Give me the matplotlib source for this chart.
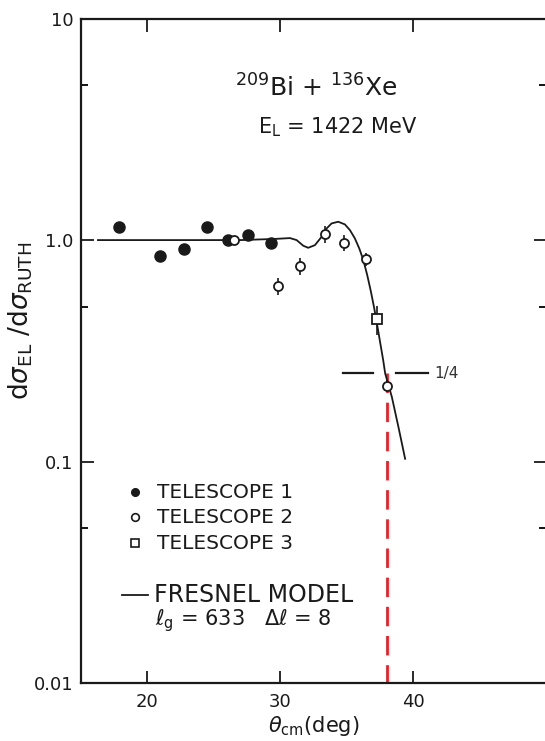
import numpy as np
import matplotlib
matplotlib.use("Agg")
import matplotlib.pyplot as plt
from matplotlib.ticker import FixedLocator, NullFormatter

plt.rcParams["font.family"] = ["DejaVu Sans"]
plt.rcParams["mathtext.fontset"] = "dejavusans"

# telescope 1 (filled circles)
tel1_theta = [17.9, 21.0, 22.8, 24.5, 26.05, 27.6, 29.35]
tel1_ratio = [1.14, 0.847, 0.911, 1.148, 1.0, 1.057, 0.97]

# telescope 2 (open circles), relative errors
tel2_theta = [26.5, 29.82, 31.53, 33.37, 34.8, 36.43, 38.0]
tel2_ratio = [1.0, 0.618, 0.764, 1.061, 0.972, 0.82, 0.22]
tel2_err = [0.0, 0.09, 0.09, 0.09, 0.08, 0.07, 0.06]

# telescope 3 (open square)
tel3_theta = [37.25]
tel3_ratio = [0.44]
tel3_err = [0.15]

# fresnel model, l_g = 633, dl = 8
model_theta = [16.3, 20.0, 24.0, 27.0, 28.5, 29.6, 30.74, 31.24, 31.74, 32.11,
               32.62, 33.12, 33.5, 33.87, 34.37, 34.87, 35.25, 35.62, 35.95,
               36.25, 36.55, 36.83, 37.08, 37.3, 37.75, 37.9, 38.4, 38.9, 39.4]
model_ratio = [1.0, 1.0, 1.0, 1.0, 1.007, 1.012, 1.021, 1.0, 0.943, 0.923,
               0.949, 1.035, 1.129, 1.189, 1.21, 1.177, 1.109, 1.018, 0.917,
               0.815, 0.695, 0.584, 0.491, 0.413, 0.287, 0.25, 0.196, 0.143,
               0.103]

quarter = 0.25
theta_quarter = 38.0

fig = plt.figure(figsize=(5.45, 7.41), dpi=100)
ax = fig.add_axes([0.148, 0.078, 0.854, 0.897])

ax.set_yscale("log")
ax.set_xlim(15, 50)
ax.set_ylim(0.01, 10)

ink = "#1a1a1a"

ax.plot(model_theta, model_ratio, color=ink, lw=1.3, zorder=2)

ax.plot(tel1_theta, tel1_ratio, "o", color=ink, ms=8, zorder=3)

t2 = np.array(tel2_ratio)
e2 = np.array(tel2_err)
ax.errorbar(tel2_theta, t2, yerr=[t2 * e2, t2 * e2], fmt="o", mfc="white",
            mec=ink, ecolor=ink, ms=6.5, mew=1.3, elinewidth=1.2, capsize=0, zorder=4)

t3 = np.array(tel3_ratio)
e3 = np.array(tel3_err)
ax.errorbar(tel3_theta, t3, yerr=[t3 * e3, t3 * e3], fmt="s", mfc="white",
            mec=ink, ecolor=ink, ms=6.5, mew=1.3, elinewidth=1.2, capsize=0, zorder=4)

# quarter-point markers
ax.plot([34.72, 36.98], [quarter, quarter], color=ink, lw=1.6)
ax.plot([38.71, 41.11], [quarter, quarter], color=ink, lw=1.6)
ax.text(41.6, quarter, "1/4", fontsize=11, va="center", ha="left", color="#333333")
ax.plot([theta_quarter, theta_quarter], [quarter, 0.01], color="#e8202a", lw=2,
        ls=(0, (7, 3.5)), zorder=1)

# ticks
ax.xaxis.set_major_locator(FixedLocator([20, 30, 40]))
ax.yaxis.set_major_locator(FixedLocator([0.01, 0.1, 1.0, 10]))
ax.yaxis.set_minor_locator(FixedLocator([0.05, 0.5, 5]))
ax.yaxis.set_minor_formatter(NullFormatter())
ax.set_yticklabels(["0.01", "0.1", "1.0", "10"])
ax.tick_params(which="major", direction="in", length=9, width=1.3,
               top=True, right=True, labelsize=13, colors=ink)
ax.tick_params(which="minor", direction="in", length=5, width=1.3,
               top=False, right=True)
ax.tick_params(axis="y", which="major", pad=5)
ax.tick_params(axis="x", which="major", pad=7)
for sp in ax.spines.values():
    sp.set_linewidth(1.6)
    sp.set_color(ink)

ax.set_xlabel(r"$\theta_{\mathrm{cm}}$(deg)", fontsize=15, labelpad=2, color=ink)
ax.set_ylabel(r"d$\sigma_{\mathrm{EL}}$ /d$\sigma_{\mathrm{RUTH}}$", fontsize=19,
              color=ink)
ax.yaxis.set_label_coords(-0.098, 0.545)

# reaction label
ax.text(0.506, 0.895, r"$^{209}$Bi + $^{136}$Xe", transform=ax.transAxes,
        fontsize=18, ha="center", va="center", color=ink)
ax.text(0.553, 0.837, r"E$_{\mathrm{L}}$ = 1422 MeV", transform=ax.transAxes,
        fontsize=15, ha="center", va="center", color=ink)

# key
ax.plot([0.1167], [0.2873], "o", color=ink, ms=5.5, transform=ax.transAxes)
ax.plot([0.1167], [0.2497], "o", mfc="white", mec=ink, ms=5.5, mew=1.2,
        transform=ax.transAxes)
ax.plot([0.1167], [0.2106], "s", mfc="white", mec=ink, ms=5.5, mew=1.2,
        transform=ax.transAxes)
for fy, lab in zip([0.2873, 0.2497, 0.2106],
                   ["TELESCOPE 1", "TELESCOPE 2", "TELESCOPE 3"]):
    ax.text(0.1646, fy, lab, transform=ax.transAxes, fontsize=14.5,
            va="center", ha="left", color=ink)
ax.plot([0.0881, 0.1453], [0.1328, 0.1328], color=ink, lw=1.3,
        transform=ax.transAxes)
ax.text(0.1575, 0.1328, "FRESNEL MODEL", transform=ax.transAxes, fontsize=17,
        va="center", ha="left", color=ink)
ax.text(0.1597, 0.094, r"$\ell_{\mathrm{g}}$ = 633   $\Delta\ell$ = 8",
        transform=ax.transAxes, fontsize=15, va="center", ha="left", color=ink)

fig.savefig("out.png", dpi=100)
